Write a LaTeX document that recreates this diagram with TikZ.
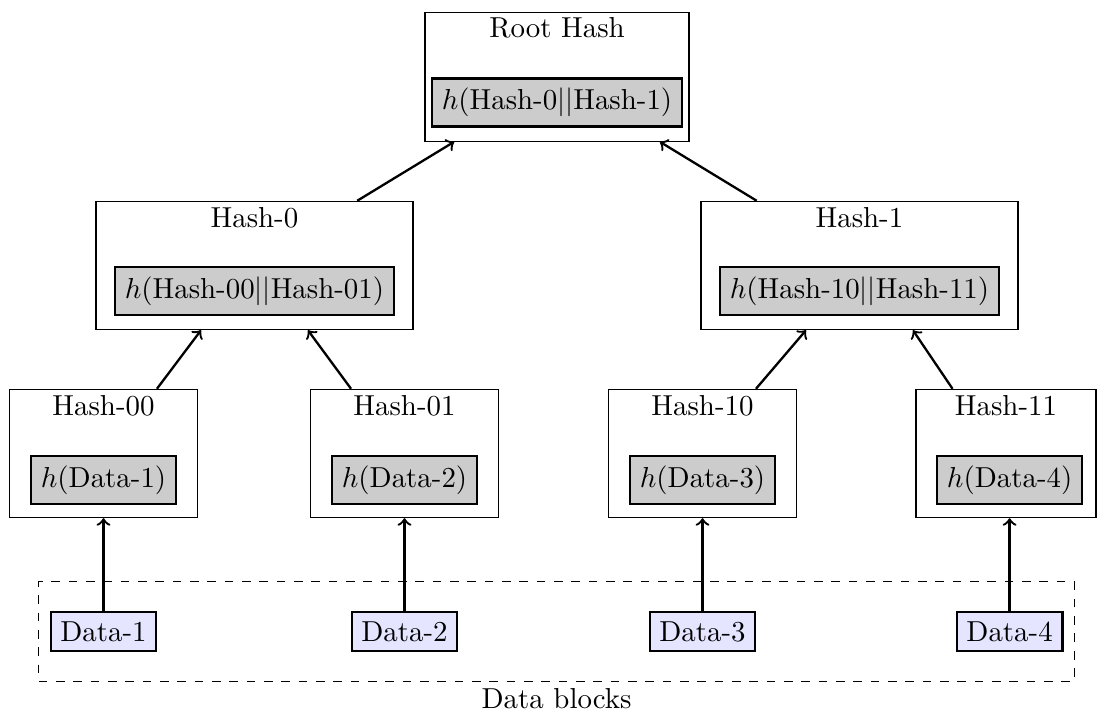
\documentclass[tikz,border=0pt]{standalone}
\usepackage{tikz}
\usetikzlibrary{fit}

\tikzset{
	outerbox/.style={draw, inner sep=0pt, minimum height=1.56cm},
	hashbox/.style={draw, thick, fill=black!20},
	datablock/.style={draw, thick, fill=blue!10},
	title/.style={anchor=base},
	link/.style={->, thick}
}

\begin{document}
\begin{tikzpicture}
			%%%%% START %%%%%
			
			\useasboundingbox (0, 0) rectangle (13.343, -8.672);
			
			% root
			\node[outerbox, minimum width=3.21cm] (root) at (6.775, -0.937) {};
			\node[title] (roott) at ([yshift=-0.31cm]root.north) {Root Hash};
			\node[hashbox] (rooth) at (6.775, -1.247) {$h$(Hash-0$||$Hash-1)};
			
			% level 1
			\node[outerbox, minimum width=3.856cm] (h0) at (3.095, -3.229) {};
			\node[title] (h0t) at ([yshift=-0.32cm]h0.north) {Hash-0};
			\node[hashbox] (h0h) at (3.095, -3.539) {$h$(Hash-00$||$Hash-01)};
			
			\node[outerbox, minimum width=3.856cm] (h1) at (10.454, -3.229) {};
			\node[title] (h1t) at ([yshift=-0.32cm]h1.north) {Hash-1};
			\node[hashbox] (h1h) at (10.454, -3.539) {$h$(Hash-10$||$Hash-11)};
			
			% level 2
			\node[outerbox, minimum width=2.287cm] (h00) at (1.259, -5.516) {};
			\node[title] (h00t) at ([yshift=-0.32cm]h00.north) {Hash-00};
			\node[hashbox] (h00h) at (1.259, -5.838) {$h$(Data-1)};
			
			\node[outerbox, minimum width=2.287cm] (h01) at (4.920, -5.516) {};
			\node[title] (h01t) at ([yshift=-0.32cm]h01.north) {Hash-01};
			\node[hashbox] (h01h) at (4.920, -5.838) {$h$(Data-2)};
			
			\node[outerbox, minimum width=2.287cm] (h10) at (8.545, -5.516) {};
			\node[title] (h10t) at ([yshift=-0.32cm]h10.north) {Hash-10};
			\node[hashbox] (h10h) at (8.545, -5.838) {$h$(Data-3)};
			
			\node[outerbox, minimum width=2.19cm] (h11) at (12.236, -5.516) {};
			\node[title] (h11t) at ([yshift=-0.32cm]h11.north) {Hash-11};
			\node[hashbox] (h11h) at (12.28, -5.838) {$h$(Data-4)};
			
			% data blocks
			\node[datablock] (d1) at (1.259, -7.681) {Data-1};
			\node[datablock] (d2) at (4.920, -7.681) {Data-2};
			\node[datablock] (d3) at (8.545, -7.681) {Data-3};
			\node[datablock] (d4) at (12.28, -7.681) {Data-4};
			
			\node[draw, dashed, inner xsep=0.134cm, inner ysep=0.35cm, fit=(d1)(d4)] (blocks) {};
			\node[title] (blockst) at ([yshift=-0.33cm]blocks.south) {Data blocks};
			
			% links
			\draw[link] ([xshift=1.25cm]h0.north) -- ([xshift=-1.25cm]root.south);
			\draw[link] ([xshift=-1.25cm]h1.north) -- ([xshift=1.25cm]root.south);
			
			\draw[link] ([xshift=0.65cm]h00.north) -- ([xshift=-0.65cm]h0.south);
			\draw[link] ([xshift=-0.65cm]h01.north) -- ([xshift=0.65cm]h0.south);
			\draw[link] ([xshift=0.65cm]h10.north) -- ([xshift=-0.65cm]h1.south);
			\draw[link] ([xshift=-0.65cm]h11.north) -- ([xshift=0.65cm]h1.south);
			
			\draw[link] (d1.north) -- (h00.south);
			\draw[link] (d2.north) -- (h01.south);
			\draw[link] (d3.north) -- (h10.south);
			\draw[link] (d4.north) -- (d4.north |- h11.south);
			
			%%%%% END %%%%%
\end{tikzpicture}
\end{document}
